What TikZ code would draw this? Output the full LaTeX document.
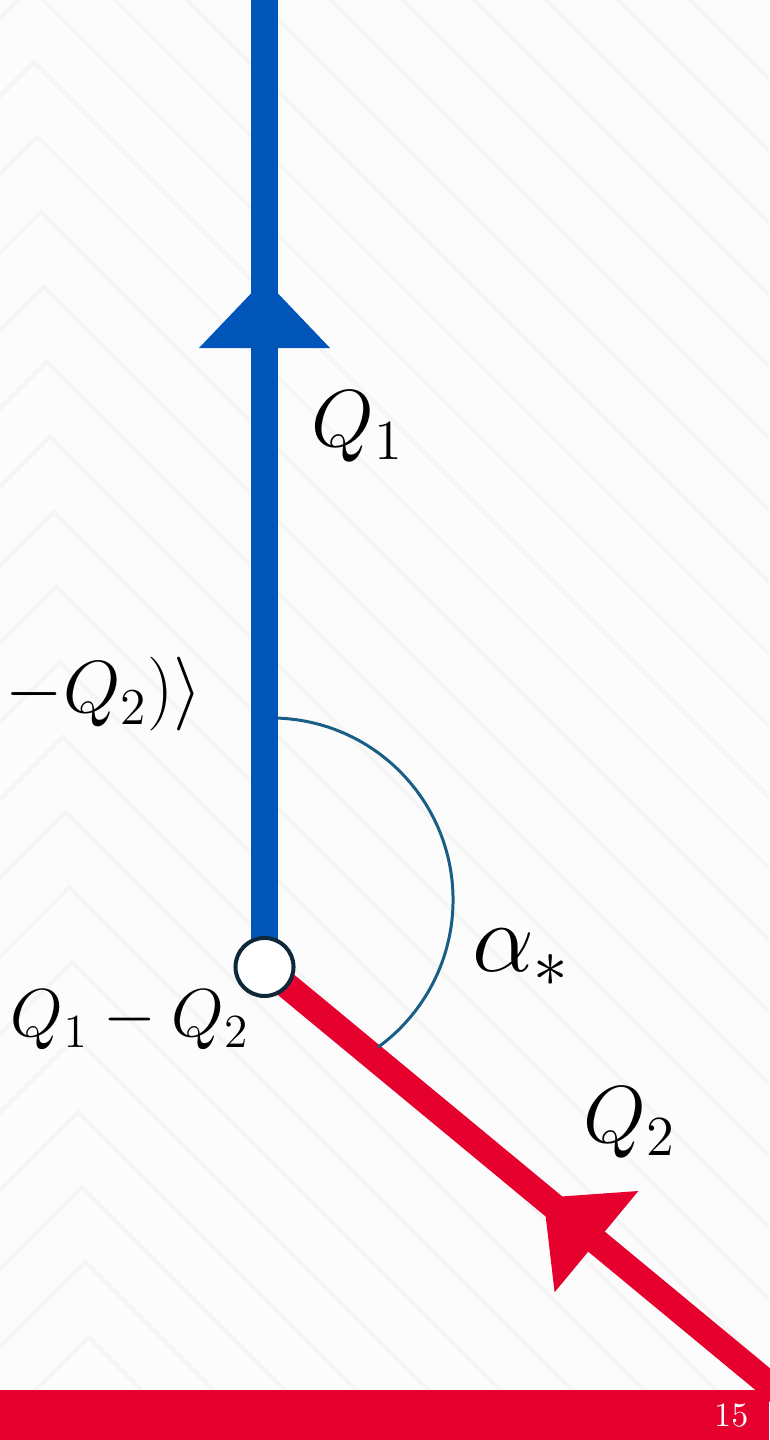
\documentclass[tikz,border=0pt]{standalone}
\usepackage{fix-cm}
\usepackage{amsmath}
\usetikzlibrary{arrows.meta,decorations.markings}
\definecolor{legblue}{RGB}{0,86,184}
\definecolor{legred}{RGB}{230,0,46}
\definecolor{arcteal}{RGB}{24,94,134}
\definecolor{ringdark}{RGB}{14,40,58}
\definecolor{slidebg}{RGB}{252,252,252}
\definecolor{slidepattern}{RGB}{245,245,245}

\begin{document}
\begin{tikzpicture}[
    x=0.01cm, y=0.01cm,
    patternline/.style={draw=slidepattern, line width=0.04cm},
    mathlabel/.style={font=\fontsize{23}{27}\selectfont, inner sep=0pt, anchor=base},
    vertex/.style={circle, draw=ringdark, line width=0.04cm, fill=white, minimum size=0.58cm, inner sep=0pt},
    blueleg/.style={draw=legblue, line width=0.27cm, postaction={decorate},
        decoration={markings, mark=at position -2.89cm with {\arrow[legblue]{Triangle[length=0.69cm,width=1.27cm]}}}},
    redleg/.style={draw=legred, line width=0.26cm, postaction={decorate},
        decoration={markings, mark=at position 3.33cm with {\arrow[legred]{Triangle[length=0.69cm,width=1.27cm]}}}},
    anglearc/.style={draw=arcteal, line width=0.03cm},
    pagenum/.style={font=\fontsize{9.7}{11}\selectfont, text=white, inner sep=0pt, anchor=base east}
]
\useasboundingbox (0,0) rectangle (769,1440);
\fill[slidebg] (0,0) rectangle (769,1440);
\begin{scope}
\clip (0,0) rectangle (769,1440);
\foreach \k in {-10,...,19}
  \draw[patternline] ({34+3.2*\k-150},{1378-75*\k-150}) -- ({34+3.2*\k},{1378-75*\k}) -- ({34+3.2*\k+1600},{1378-75*\k-1600});
\end{scope}

\coordinate (VertexPoint) at (264.5,473);
\coordinate (TopEnd) at (264.5,1450);
\coordinate (BottomEnd) at (800,30);
\coordinate (ArcStart) at (277.4,721.9);

\draw[blueleg] (VertexPoint) -- (TopEnd);
\draw[redleg] (BottomEnd) -- (VertexPoint);
\draw[anglearc] (ArcStart) arc[start angle=88, end angle=-54, radius=182];
\node[vertex] (Vertex) at (VertexPoint) {};

\node[mathlabel] (QOne) at (358,993) {$Q_1$};
\node[mathlabel, anchor=base east, font=\fontsize{21}{25}\selectfont] (InnerTail) at (203,727) {$-Q_2)\rangle$};
\node[mathlabel, font=\fontsize{28}{32}\selectfont] (Alpha) at (521,468) {$\alpha_*$};
\node[mathlabel, font=\fontsize{19.3}{23}\selectfont] (Diff) at (130,403) {$Q_1-Q_2$};
\node[mathlabel] (QTwo) at (630,297) {$Q_2$};

\fill[legred] (0,0) rectangle (769,50);
\node[pagenum] (PageNum) at (749,13) {15};
\end{tikzpicture}
\end{document}
